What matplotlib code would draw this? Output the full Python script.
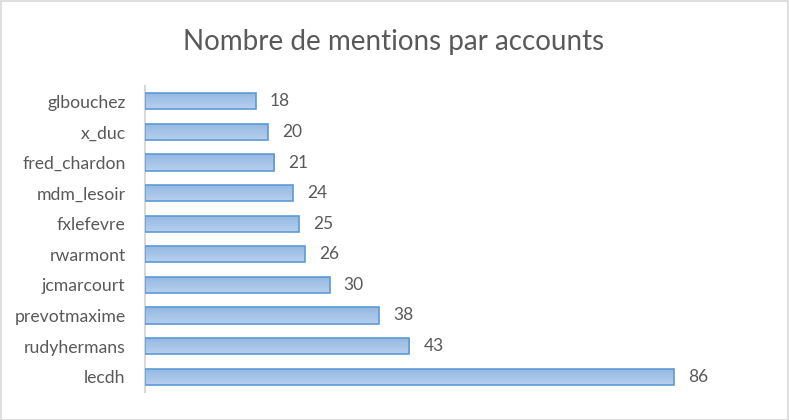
import matplotlib
matplotlib.use("Agg")
import matplotlib.pyplot as plt
import numpy as np
from matplotlib.patches import Rectangle
from matplotlib.colors import LinearSegmentedColormap

accounts = ["lecdh", "rudyhermans", "prevotmaxime", "jcmarcourt", "rwarmont",
            "fxlefevre", "mdm_lesoir", "fred_chardon", "x_duc", "glbouchez"]
mentions = [86, 43, 38, 30, 26, 25, 24, 21, 20, 18]
title = "Nombre de mentions par accounts"

plt.rcParams['font.family'] = ['Lato', 'DejaVu Sans']
W, H = 789, 420
fig = plt.figure(figsize=(W / 100, H / 100), dpi=100)
fig.patches.append(Rectangle((0.5 / W, 0.5 / H), 1 - 1.5 / W, 1 - 1.5 / H,
                             transform=fig.transFigure, fill=False,
                             edgecolor="#d9d9d9", linewidth=1.2))

ax = fig.add_axes([145 / W, (H - 392) / H, 615 / W, (392 - 86) / H])

cmap = LinearSegmentedColormap.from_list("g", ["#b7cfed", "#94b8e3"])
grad = np.linspace(0, 1, 64).reshape(-1, 1)
bh = 0.53
y = np.arange(len(accounts))
bars = ax.barh(y, mentions, height=bh, color="none", edgecolor="#5b9bd5",
               linewidth=1.2, zorder=3)
for b in bars:
    x0, y0 = b.get_x(), b.get_y()
    w, h = b.get_width(), b.get_height()
    im = ax.imshow(grad, cmap=cmap, aspect="auto",
                   extent=(x0, x0 + w, y0 + h, y0), zorder=2, origin="upper")
    im.set_clip_path(b)
ax.set_xlim(0, 100)
ax.set_ylim(-0.5, len(accounts) - 0.5)

for yi, v in zip(y, mentions):
    ax.text(v + 2.3, yi, str(v), va="center", ha="left",
            fontsize=12.5, color="#595959")

ax.set_yticks(y)
ax.set_yticklabels(accounts, fontsize=12.7, color="#595959")
ax.tick_params(axis="y", length=0, pad=14)
ax.set_xticks([])
for s in ["top", "right", "bottom"]:
    ax.spines[s].set_visible(False)
ax.spines["left"].set_color("#d9d9d9")
ax.spines["left"].set_linewidth(1.5)

fig.text(394 / W, 1 - 42 / H, title, ha="center", va="center",
         fontsize=20, color="#595959")

fig.savefig("out.png", dpi=100)
